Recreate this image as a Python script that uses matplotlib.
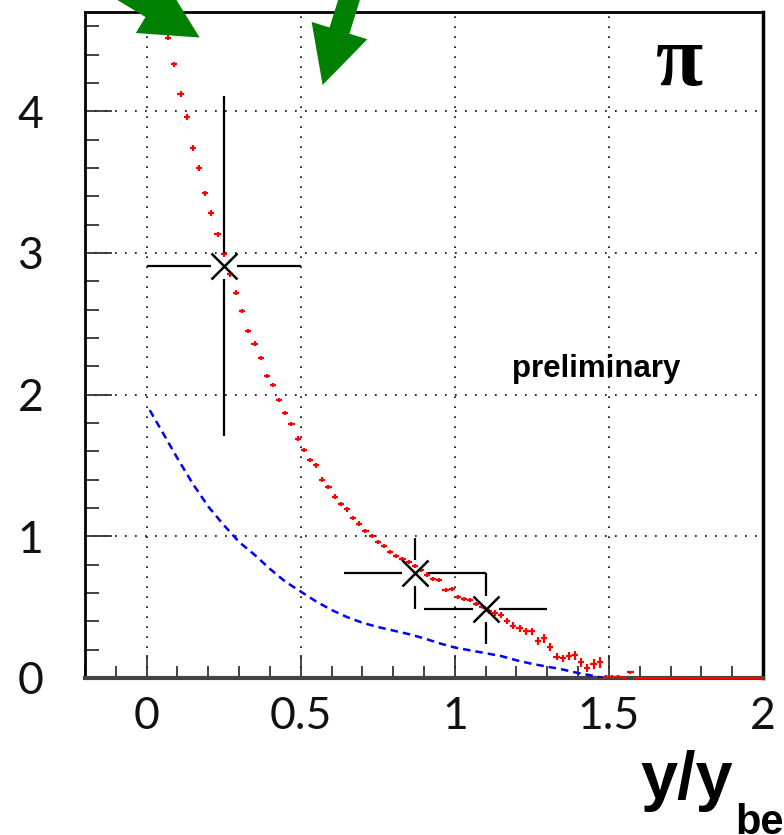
import matplotlib
matplotlib.use('Agg')
import matplotlib.pyplot as plt
from matplotlib.ticker import MultipleLocator, FuncFormatter
import numpy as np

# red histogram: bin centres, contents, errors (bin width 0.02)
red_x = np.round(np.arange(0.07, 1.60, 0.02), 2)
red_y = [4.52, 4.33, 4.12, 3.96, 3.74, 3.60, 3.42, 3.28, 3.13, 2.99, 2.85, 2.72,
         2.59, 2.45, 2.36, 2.26, 2.13, 2.07, 1.96, 1.87, 1.79, 1.69,
         1.61, 1.54, 1.50, 1.40, 1.35, 1.28, 1.23, 1.19, 1.13, 1.09,
         1.04, 1.00, 0.96, 0.93, 0.89, 0.86, 0.84, 0.82, 0.79, 0.76,
         0.73, 0.70, 0.69, 0.62, 0.63, 0.57, 0.56, 0.55, 0.52, 0.50,
         0.47, 0.46, 0.445, 0.40, 0.37, 0.35, 0.33, 0.33, 0.26, 0.28,
         0.22, 0.15, 0.14, 0.155, 0.16, 0.11, 0.07, 0.10, 0.11, 0.01,
         0.01, 0.01, 0.0, 0.04, 0.0]
red_err = [0.02, 0.02, 0.02, 0.02, 0.02, 0.02, 0.02, 0.02, 0.02, 0.02, 0.02, 0.02,
           0.015, 0.015, 0.015, 0.015, 0.015, 0.015, 0.015, 0.015, 0.015, 0.015,
           0.015, 0.015, 0.015, 0.015, 0.015, 0.015, 0.015, 0.015, 0.015, 0.015,
           0.015, 0.015, 0.015, 0.015, 0.015, 0.015, 0.015, 0.015, 0.015, 0.015,
           0.015, 0.015, 0.015, 0.015, 0.015, 0.015, 0.015, 0.015, 0.015, 0.015,
           0.02, 0.02, 0.02, 0.02, 0.025, 0.025, 0.025, 0.025, 0.03, 0.03,
           0.03, 0.025, 0.025, 0.03, 0.03, 0.03, 0.03, 0.035, 0.04, 0.01,
           0.01, 0.01, 0.0, 0.01, 0.0]
# empty bins up to 2
red_empty_x = np.round(np.arange(1.61, 2.0, 0.02), 2)
red_empty_y = np.zeros(len(red_empty_x))

# blue dashed curve
blue_x = [0.01, 0.05, 0.10, 0.15, 0.20, 0.25, 0.30, 0.35, 0.40, 0.45, 0.50,
          0.55, 0.60, 0.65, 0.70, 0.75, 0.80, 0.85, 0.90, 0.95, 1.00,
          1.05, 1.10, 1.15, 1.20, 1.25, 1.30, 1.35, 1.40, 1.45, 1.48]
blue_y = [1.89, 1.74, 1.55, 1.37, 1.21, 1.08, 0.96, 0.87, 0.77, 0.68, 0.61,
          0.54, 0.48, 0.43, 0.39, 0.36, 0.335, 0.31, 0.28, 0.245, 0.215,
          0.195, 0.175, 0.155, 0.125, 0.10, 0.08, 0.06, 0.035, 0.015, 0.0]

# black points (x, y, x error, y error)
pt_x = [0.25, 0.87, 1.10]
pt_y = [2.91, 0.74, 0.49]
pt_xerr = [0.25, 0.23, 0.20]
pt_yerr = [1.20, 0.25, 0.25]

W, H = 784, 835
fig = plt.figure(figsize=(W / 100, H / 100), dpi=100)
ax = fig.add_axes([85 / W, 1 - 678 / H, (763 - 85) / W, (678 - 12) / H])
ax.set_xlim(-0.2, 2.0)
ax.set_ylim(0, 4.7)

ax.xaxis.set_major_locator(MultipleLocator(0.5))
ax.xaxis.set_minor_locator(MultipleLocator(0.1))
ax.yaxis.set_major_locator(MultipleLocator(1))
ax.yaxis.set_minor_locator(MultipleLocator(0.2))
fmt = FuncFormatter(lambda v, p: f'{v:g}')
ax.xaxis.set_major_formatter(fmt)
ax.yaxis.set_major_formatter(fmt)

ax.tick_params(which='both', direction='in', top=False, right=False, width=1.2, color='#222')
ax.tick_params(axis='y', which='major', length=19.5, pad=30, labelsize=32)
ax.tick_params(axis='y', which='minor', length=10)
ax.tick_params(axis='x', which='major', length=16.5, pad=13, labelsize=32)
ax.tick_params(axis='x', which='minor', length=8.5)
for lab in ax.get_xticklabels() + ax.get_yticklabels():
    lab.set_family('Lato')
    lab.set_fontweight('normal')
    lab.set_color('#111')

ax.grid(True, which='major', linestyle=(0, (1, 5)), color='black', linewidth=1.2)
ax.set_axisbelow(True)

for s in ['left', 'top']:
    ax.spines[s].set_linewidth(2)
ax.spines['right'].set_linewidth(2.5)
ax.spines['bottom'].set_linewidth(3)
ax.spines['bottom'].set_color('#444')

# blue dashed line
ax.plot(blue_x, blue_y, color='blue', lw=1.8, dashes=(3, 2), zorder=3)

# red histogram with errors
eb = ax.errorbar(red_x, red_y, xerr=0.01, yerr=red_err, fmt='none',
                 ecolor='red', elinewidth=1.6, capsize=0, zorder=4)
eb2 = ax.errorbar(red_empty_x, red_empty_y, xerr=0.01, fmt='none',
                  ecolor='red', elinewidth=1.6, capsize=0, zorder=4)
for c in list(eb.lines[2]) + list(eb2.lines[2]):
    c.set_clip_on(False)

# black points, error bars stop at the marker
gx, gy = 0.042, 0.092
for x, y, xe, ye in zip(pt_x, pt_y, pt_xerr, pt_yerr):
    ax.hlines([y, y], [x - xe, x + gx], [x - gx, x + xe], color='black', lw=1.6, zorder=5)
    ax.vlines([x, x], [y - ye, y + gy], [y - gy, y + ye], color='black', lw=1.6, zorder=5)
ax.plot(pt_x, pt_y, 'x', ms=19, mew=1.8, color='black', zorder=6)

# green arrows
style = 'simple,head_length=0.41,head_width=0.42,tail_width=0.15'
ax.annotate('', xy=(0.172, 4.52), xytext=(-0.266, 5.095),
            arrowprops=dict(arrowstyle=style, mutation_scale=100, color='green',
                            lw=0, shrinkA=0, shrinkB=0),
            annotation_clip=False, zorder=7)
ax.annotate('', xy=(0.571, 4.185), xytext=(0.721, 5.236),
            arrowprops=dict(arrowstyle=style, mutation_scale=100, color='green',
                            lw=0, shrinkA=0, shrinkB=0),
            annotation_clip=False, zorder=7)

ax.text(1.73, 4.33, 'π', fontsize=62, fontweight='bold', family='Liberation Serif',
        ha='center', va='center')
ax.text(1.185, 2.18, 'preliminary', fontsize=22.5, fontweight='bold',
        family='Liberation Sans', ha='left', va='center')

fig.text(640 / W, 1 - 798 / H, 'y/y', fontsize=48, fontweight='bold',
         family='Liberation Sans', ha='left', va='baseline')
fig.text(735 / W, 1 - 834 / H, 'beam', fontsize=30, fontweight='bold',
         family='Liberation Sans', ha='left', va='baseline')

fig.savefig('out.png', dpi=100)
